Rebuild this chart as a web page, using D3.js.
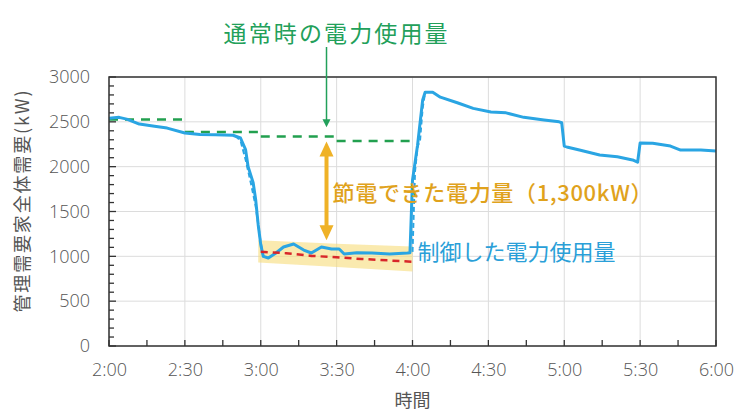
<!DOCTYPE html>
<html lang="ja">
<head>
    <meta charset="UTF-8">
    <title>管理需要家全体需要</title>
    <script src="https://d3js.org/d3.v7.min.js"></script>
    <style>
        body { margin: 0; background: #fff; }
        text { font-family: "Open Sans", "Noto Sans CJK JP", sans-serif; }
        .jp { font-family: "Noto Sans CJK JP", sans-serif; }
    </style>
</head>
<body>
    <div id="chart"></div>
    <script>
        // measured usage (solid blue)
        var usageTimes = ["2:00","2:04","2:07","2:12","2:18","2:23","2:30","2:36","2:42","2:49","2:52","2:54","2:55","2:57","2:58","2:59",
            "3:00","3:01","3:03","3:06","3:09","3:13","3:17","3:20","3:24","3:28","3:31","3:33","3:38","3:44","3:51","3:58","3:59",
            "4:00","4:02","4:04","4:05","4:08","4:11","4:18","4:24","4:31","4:37","4:44","4:52","4:58","4:59",
            "5:00","5:01","5:06","5:14","5:21","5:27","5:29","5:30","5:35","5:42","5:46","5:54","6:00"];
        var usageValues = [2540,2550,2530,2475,2450,2430,2375,2360,2355,2350,2320,2190,2000,1820,1630,1350,
            1130,1000,981,1037,1104,1137,1070,1037,1104,1082,1082,1026,1040,1037,1026,1037,1040,
            1850,2240,2740,2830,2830,2775,2710,2650,2610,2600,2550,2520,2500,2490,
            2230,2220,2185,2130,2110,2075,2050,2265,2260,2230,2185,2185,2175];

        // dashed blue around the switching times
        var offTimes = ["2:50","2:52","2:54","2:56","2:58","3:00","3:01"];
        var offValues = [2345,2290,2080,1830,1560,1150,1000];
        var onTimes = ["4:00","4:01","4:02","4:03","4:04","4:05"];
        var onValues = [1050,1950,2220,2300,2650,2830];

        // normal usage (green dashed steps)
        var normalStart = ["2:00","2:30","3:00","3:30"];
        var normalEnd = ["2:29","2:59","3:29","4:00"];
        var normalValues = [2526,2386,2336,2286];

        // control target (red dashed) and tolerance band
        var targetTimes = ["3:00","3:10","3:20","3:30","3:40","3:50","4:00"];
        var targetValues = [1050,1035,1005,990,970,955,940];
        var bandTimes = ["2:59","3:30","4:00"];
        var bandUpper = [1180,1140,1110];
        var bandLower = [930,880,830];

        var yTicks = [0,500,1000,1500,2000,2500,3000];
        var xTickLabels = ["2:00","2:30","3:00","3:30","4:00","4:30","5:00","5:30","6:00"];

        var margin = { top: 77, right: 20, bottom: 65, left: 109 };
        var width = 736 - margin.left - margin.right;
        var height = 411 - margin.top - margin.bottom;
        var time = d3.timeParse("%H:%M");

        var svg = d3.select("#chart").append("svg")
            .attr("width", 736)
            .attr("height", 411)
            .append("g")
            .attr("transform", "translate(" + margin.left + "," + margin.top + ")");

        var x = d3.scaleTime()
            .domain([time("2:00"), time("6:00")])
            .range([0, width]);
        var y = d3.scaleLinear()
            .domain([0, 3000])
            .range([height, 0]);

        // grid
        svg.append("g").selectAll("line").data(xTickLabels.map(time)).enter().append("line")
            .attr("x1", d => x(d)).attr("x2", d => x(d))
            .attr("y1", 0).attr("y2", height)
            .style("stroke", "#dcdcdc").style("stroke-width", 1);
        svg.append("g").selectAll("line").data(yTicks).enter().append("line")
            .attr("x1", 0).attr("x2", width)
            .attr("y1", d => y(d)).attr("y2", d => y(d))
            .style("stroke", "#dcdcdc").style("stroke-width", 1);

        // tolerance band
        var band = bandTimes.map((t, i) => ({ t: time(t), hi: bandUpper[i], lo: bandLower[i] }));
        svg.append("path").datum(band)
            .attr("d", d3.area().x(d => x(d.t)).y0(d => y(d.lo)).y1(d => y(d.hi)))
            .style("fill", "#f7dc7a").style("opacity", 0.6);

        // normal usage
        normalValues.forEach(function (v, i) {
            svg.append("line")
                .attr("x1", x(time(normalStart[i]))).attr("x2", x(time(normalEnd[i])))
                .attr("y1", y(v)).attr("y2", y(v))
                .style("stroke", "#22a04f").style("stroke-width", 2.5)
                .style("stroke-dasharray", "9,7");
        });

        var line = d3.line().x(d => x(d.t)).y(d => y(d.v));
        function pts(ts, vs) { return ts.map((t, i) => ({ t: time(t), v: vs[i] })); }

        // usage
        svg.append("path").datum(pts(usageTimes, usageValues))
            .attr("d", line)
            .style("fill", "none").style("stroke", "#2aa5e3")
            .style("stroke-width", 3).style("stroke-linejoin", "round");
        [pts(offTimes, offValues), pts(onTimes, onValues)].forEach(function (p) {
            svg.append("path").datum(p)
                .attr("d", line)
                .style("fill", "none").style("stroke", "#2aa5e3")
                .style("stroke-width", 2).style("stroke-dasharray", "5,3");
        });

        // target
        svg.append("path").datum(pts(targetTimes, targetValues))
            .attr("d", line)
            .style("fill", "none").style("stroke", "#d8262a")
            .style("stroke-width", 2.5).style("stroke-dasharray", "7,5");

        // minor ticks
        svg.append("g").selectAll("line").data(d3.range(0, 3001, 100)).enter().append("line")
            .attr("x1", 0).attr("x2", d => d % 500 === 0 ? 7 : 5)
            .attr("y1", d => y(d)).attr("y2", d => y(d))
            .style("stroke", "#333").style("stroke-width", 1.3);
        svg.append("g").selectAll("line").data(d3.timeMinute.every(15).range(time("2:00"), time("6:01"))).enter().append("line")
            .attr("x1", d => x(d)).attr("x2", d => x(d))
            .attr("y1", height).attr("y2", height - 6)
            .style("stroke", "#333").style("stroke-width", 1.3);

        // frame
        svg.append("rect")
            .attr("width", width).attr("height", height)
            .style("fill", "none").style("stroke", "#333").style("stroke-width", 1.5);

        // tick labels
        var xAxis = svg.append("g")
            .attr("transform", "translate(0," + height + ")")
            .call(d3.axisBottom(x).tickValues(xTickLabels.map(time)).tickFormat(d3.timeFormat("%-H:%M")).tickSize(0).tickPadding(17));
        var yAxis = svg.append("g")
            .call(d3.axisLeft(y).tickValues(yTicks).tickFormat(d3.format("d")).tickSize(0).tickPadding(19));
        [xAxis, yAxis].forEach(function (a) {
            a.select(".domain").remove();
            a.selectAll("text").style("font-size", "18px").style("fill", "#555")
                .style("font-family", "'Open Sans', sans-serif").style("font-weight", 300);
        });

        // axis titles
        svg.append("text").attr("class", "jp")
            .attr("transform", "rotate(-90)")
            .attr("x", -(height / 2) + 10).attr("y", -80)
            .attr("text-anchor", "middle")
            .style("font-size", "18px").style("fill", "#555")
            .attr("textLength", 222)
            .text("管理需要家全体需要(kW)");
        svg.append("text").attr("class", "jp")
            .attr("x", width / 2).attr("y", height + 61)
            .attr("text-anchor", "middle")
            .style("font-size", "18px").style("fill", "#555")
            .text("時間");

        // annotations
        var ax = x(time("3:26"));
        var green = "#22a05a", orange = "#efb227";
        svg.append("line")
            .attr("x1", ax).attr("x2", ax)
            .attr("y1", -30).attr("y2", y(2440) - 6)
            .style("stroke", green).style("stroke-width", 1.5);
        svg.append("path")
            .attr("d", "M" + (ax - 4) + "," + (y(2440) - 8) + "L" + (ax + 4) + "," + (y(2440) - 8) + "L" + ax + "," + y(2440) + "Z")
            .style("fill", green);
        svg.append("text").attr("class", "jp")
            .attr("x", ax + 9).attr("y", -35)
            .attr("text-anchor", "middle")
            .attr("textLength", 224)
            .style("font-size", "23px").style("fill", green)
            .text("通常時の電力使用量");

        var arrowTop = y(2280), arrowBot = y(1180);
        svg.append("line")
            .attr("x1", ax).attr("x2", ax)
            .attr("y1", arrowTop + 12).attr("y2", arrowBot - 12)
            .style("stroke", orange).style("stroke-width", 4);
        svg.append("path")
            .attr("d", "M" + ax + "," + arrowTop + "L" + (ax + 7) + "," + (arrowTop + 15) + "L" + (ax - 7) + "," + (arrowTop + 15) + "Z"
                + "M" + ax + "," + arrowBot + "L" + (ax + 7) + "," + (arrowBot - 15) + "L" + (ax - 7) + "," + (arrowBot - 15) + "Z")
            .style("fill", orange);
        svg.append("text").attr("class", "jp")
            .attr("x", ax + 6).attr("y", 124)
            .attr("textLength", 320)
            .style("font-size", "22px").style("font-weight", 500).style("fill", "#e0a21c")
            .text("節電できた電力量（1,300kW）");

        svg.append("text").attr("class", "jp")
            .attr("x", x(time("4:02"))).attr("y", 183)
            .attr("textLength", 198)
            .style("font-size", "22px").style("fill", "#2a9fd8")
            .text("制御した電力使用量");
    </script>
</body>
</html>
